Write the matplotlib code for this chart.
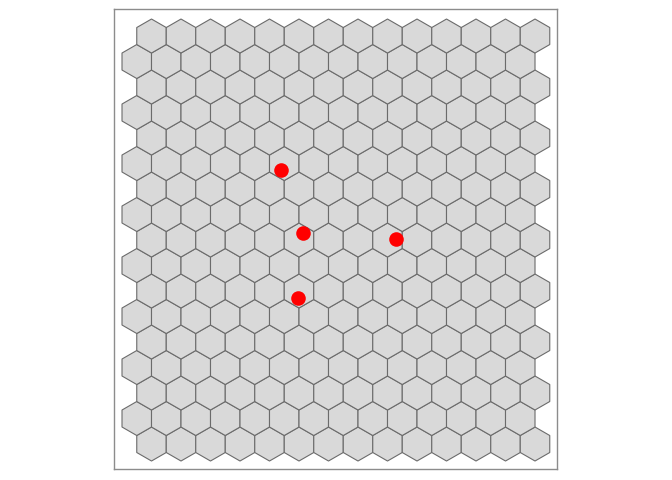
import numpy as np
import matplotlib
matplotlib.use('Agg')
import matplotlib.pyplot as plt
from matplotlib.collections import PolyCollection

# Grid layout (rows from bottom, hexes per row)
n_rows = 17
n_cols = 14

# Points
point_x = [9.32, 10.61, 16.07, 10.32]
point_y = [17.10, 13.43, 13.06, 9.61]

w = np.sqrt(3)
angles = np.deg2rad(np.arange(6) * 60 + 30)

polys = []
for j in range(n_rows):
	cy = 1 + 1.5 * j
	shift = w if j % 2 == 0 else w / 2
	for i in range(n_cols):
		cx = shift + i * w
		polys.append(np.column_stack([cx + np.cos(angles), cy + np.sin(angles)]))

fig = plt.figure(figsize=(6.72, 4.8), dpi=100)
ax = fig.add_axes([114 / 672, 1 - 469 / 480, 443 / 672, 460 / 480])

hexes = PolyCollection(polys, facecolor='#d9d9d9', edgecolor='#6b6b6b', linewidths=0.8)
ax.add_collection(hexes)
ax.scatter(point_x, point_y, s=110, c='red', zorder=3, linewidths=0)

ax.set_xlim(-0.47, 25.54)
ax.set_ylim(-0.47, 26.59)
ax.set_xticks([])
ax.set_yticks([])
for sp in ax.spines.values():
	sp.set_color('#8c8c8c')
	sp.set_linewidth(1.0)

fig.savefig('out.png', dpi=100)
